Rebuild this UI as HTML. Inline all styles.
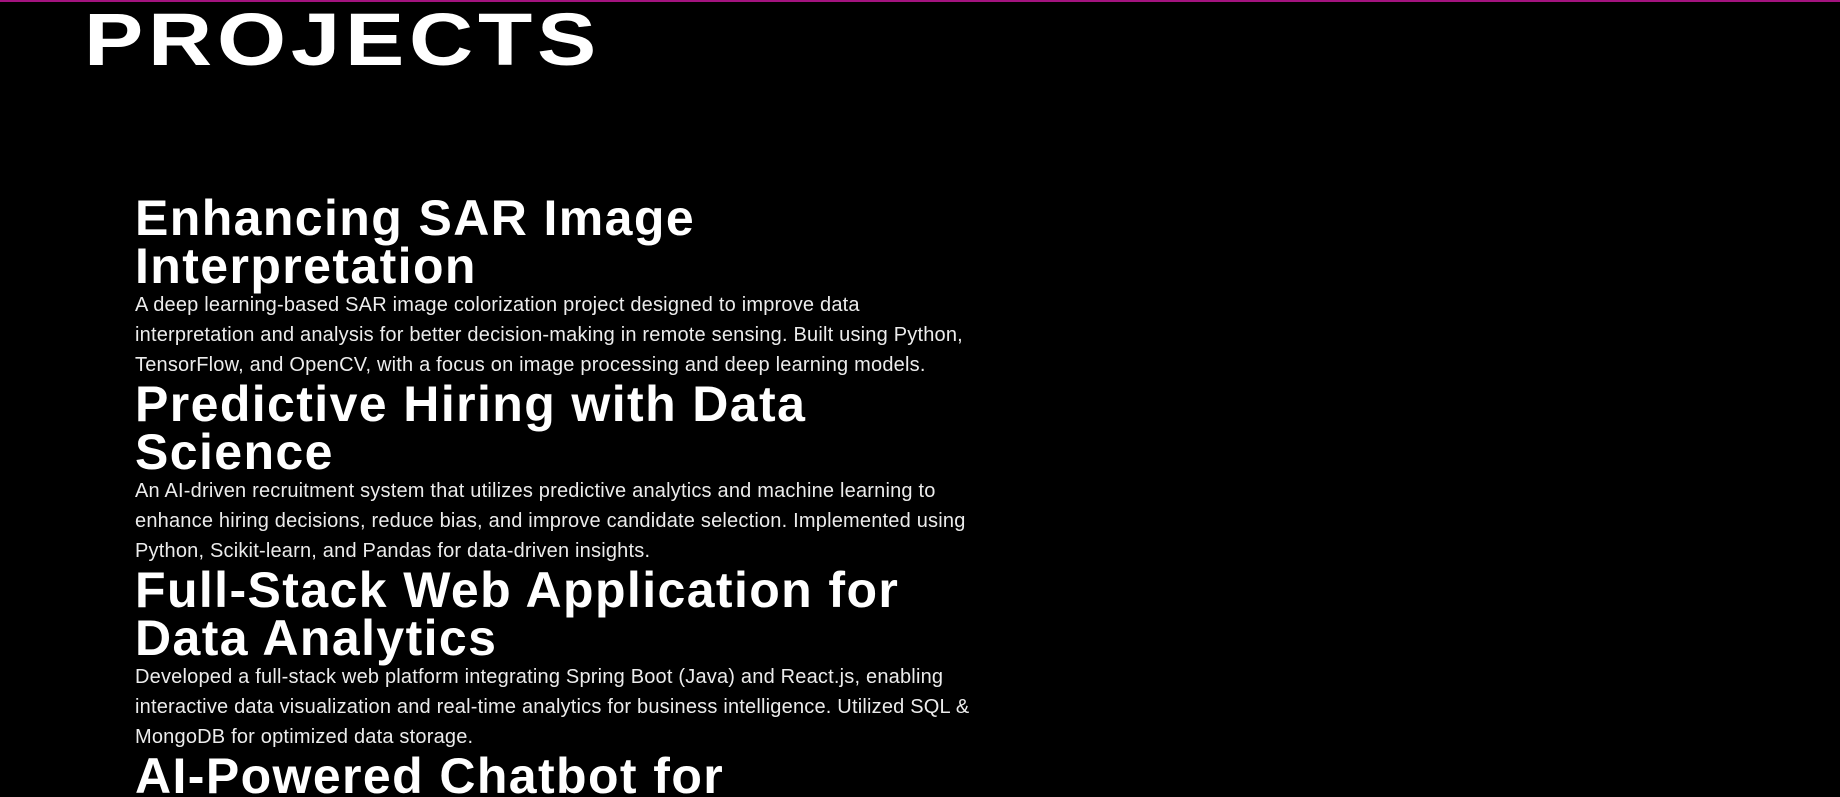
<!DOCTYPE html>
<html><head><meta charset="utf-8"><style>
html,body{margin:0;padding:0;background:#000;width:1840px;height:797px;overflow:hidden}
body{position:relative;font-family:"Liberation Sans",sans-serif;color:#fff}
.bar{position:absolute;left:0;top:0;width:1840px;height:2px;background:#a3137e}
h1{position:absolute;left:84px;top:0px;margin:0;font-size:74px;line-height:80px;font-weight:700;letter-spacing:4px;transform:scaleX(1.2);transform-origin:left top}
.wrap{position:absolute;left:135px;top:194px;width:900px}
h2{margin:0;font-size:50px;line-height:48px;font-weight:700;white-space:nowrap;letter-spacing:1.4px}
p{margin:0;font-size:20px;line-height:30px;color:#ececec;white-space:nowrap;letter-spacing:0.2px}
</style></head><body>
<div class="bar"></div>
<h1>PROJECTS</h1>
<div class="wrap">
<h2>Enhancing SAR Image<br>Interpretation</h2>
<p>A deep learning-based SAR image colorization project designed to improve data<br>interpretation and analysis for better decision-making in remote sensing. Built using Python,<br>TensorFlow, and OpenCV, with a focus on image processing and deep learning models.</p>
<h2>Predictive Hiring with Data<br>Science</h2>
<p>An AI-driven recruitment system that utilizes predictive analytics and machine learning to<br>enhance hiring decisions, reduce bias, and improve candidate selection. Implemented using<br>Python, Scikit-learn, and Pandas for data-driven insights.</p>
<h2>Full-Stack Web Application for<br>Data Analytics</h2>
<p>Developed a full-stack web platform integrating Spring Boot (Java) and React.js, enabling<br>interactive data visualization and real-time analytics for business intelligence. Utilized SQL &amp;<br>MongoDB for optimized data storage.</p>
<h2>AI-Powered Chatbot for</h2>
</div>
</body></html>
